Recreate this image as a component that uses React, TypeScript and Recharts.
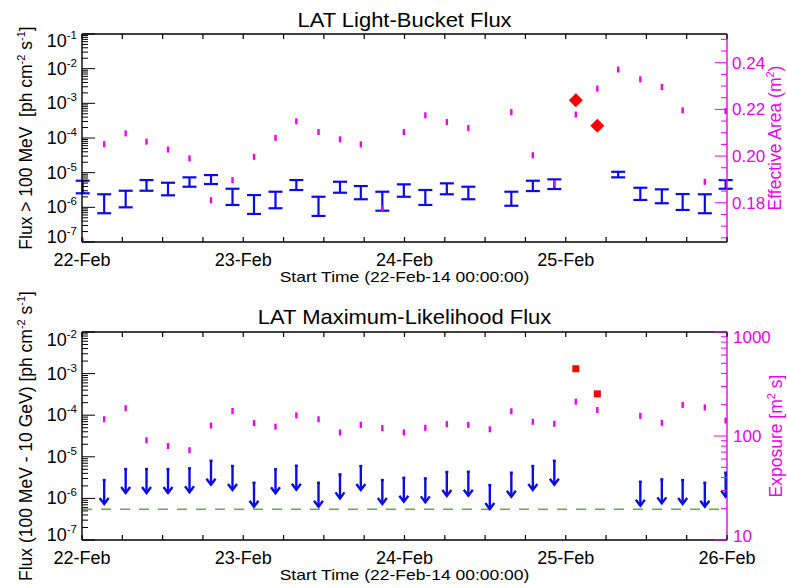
import { ScatterChart, Scatter, XAxis, YAxis, ErrorBar, ReferenceLine, Label } from "recharts";

const FONT = "'Liberation Sans', Arial, Helvetica, sans-serif";
const INK = "#000000";
const BLUE = "#0b0be6";
const MAGENTA = "#ee00ee";
const RED = "#ff0000";
const GREEN = "#6aa84f";

// bin centres, hours after 22-Feb-14 00:00:00
const binHours = [0.1, 3.3, 6.5, 9.6, 12.8, 16.0, 19.2, 22.4, 25.6, 28.8, 31.9, 35.2, 38.4, 41.5, 44.7, 47.9, 51.1, 54.3, 57.5, 60.7, 63.9, 67.1, 70.3, 73.5, 76.7, 79.8, 83.1, 86.3, 89.4, 92.7, 95.8];

// light-bucket flux > 100 MeV, error bar ends (null = no bar in that bin)
const lbFluxHigh = [5.85e-6, 2.38e-6, 3.01e-6, 6.12e-6, 5.12e-6, 7.33e-6, 8.53e-6, 3.44e-6, 2.26e-6, 2.82e-6, 6.12e-6, 2.02e-6, 5.47e-6, 4.11e-6, 2.82e-6, 4.6e-6, 3.16e-6, 4.92e-6, 3.93e-6, null, 2.82e-6, 5.85e-6, 6.41e-6, null, null, 1.06e-5, 3.67e-6, 3.3e-6, 2.42e-6, 2.38e-6, 6.12e-6];
const lbFluxLow = [2.54e-6, 6.75e-7, 1.0e-6, 3.01e-6, 2.22e-6, 3.93e-6, 4.7e-6, 1.17e-6, 6.44e-7, 9.4e-7, 3.16e-6, 5.64e-7, 2.64e-6, 1.71e-6, 8.0e-7, 2.02e-6, 1.17e-6, 2.38e-6, 1.71e-6, null, 1.11e-6, 2.95e-6, 3.37e-6, null, null, 7.33e-6, 1.63e-6, 1.31e-6, 8.4e-7, 6.75e-7, 3.44e-6];
const lbDetections = [null, null, null, null, null, null, null, null, null, null, null, null, null, null, null, null, null, null, null, null, null, null, null, 1.23e-3, 2.24e-4, null, null, null, null, null, null];
// effective area (m^2), right axis of the top panel
const effArea = [0.1635, 0.2051, 0.2097, 0.2062, 0.2028, 0.199, 0.1811, 0.1897, 0.1997, 0.2078, 0.2149, 0.2103, 0.2072, 0.205, 0.1777, 0.2103, 0.2175, 0.2146, 0.212, null, 0.2188, 0.2004, 0.1883, 0.2178, 0.2289, 0.2371, 0.2329, 0.2296, 0.2196, 0.189, 0.2193];

// maximum-likelihood flux 100 MeV - 10 GeV
const mlUpperLimits = [null, 2.76e-6, 5.08e-6, 5.08e-6, 5.08e-6, 5.28e-6, 8.05e-6, 6.0e-6, 2.38e-6, 5.0e-6, 6.1e-6, 2.38e-6, 3.78e-6, 6.0e-6, 2.76e-6, 3.13e-6, 3.03e-6, 4.31e-6, 4.38e-6, 2.09e-6, 4.14e-6, 6.0e-6, 8.05e-6, null, null, null, 2.51e-6, 2.87e-6, 2.76e-6, 2.38e-6, 4.14e-6];
const mlDetections = [null, null, null, null, null, null, null, null, null, null, null, null, null, null, null, null, null, null, null, null, null, null, null, 1.31e-3, 3.26e-4, null, null, null, null, null, null];
// exposure (m^2 s), right axis of the bottom panel
const exposure = [null, 145, 185, 91, 80, 73, 126, 174, 133, 123, 158, 145, 108, 128, 119, 108, 120, 130, 128, 116, 173, 137, 131, 214, 178, null, 156, 134, 199, 188, 141];
const mlFluxFloor = 5.5e-7;

// axes
const hourTicks = [0, 6, 12, 18, 24, 30, 36, 42, 48, 54, 60, 66, 72, 78, 84, 90, 96];
const dayTickHours = [0, 24, 48, 72, 96];
const dayTickLabels = ["22-Feb", "23-Feb", "24-Feb", "25-Feb", "26-Feb"];
const lbFluxDecades = [1e-7, 1e-6, 1e-5, 1e-4, 1e-3, 1e-2, 1e-1];
const mlFluxDecades = [1e-7, 1e-6, 1e-5, 1e-4, 1e-3, 1e-2];
const exposureDecades = [10, 100, 1000];
const areaLabels = [0.18, 0.2, 0.22, 0.24];
const areaDomain = [0.1632, 0.2523];

const withMinors = (decades: number[]) => {
  const out: number[] = [];
  decades.forEach((d, i) => {
    out.push(d);
    if (i < decades.length - 1) for (let k = 2; k < 10; k++) out.push(d * k);
  });
  return out;
};
const areaTicks: number[] = [];
for (let v = 0.165; v <= 0.2501; v += 0.005) areaTicks.push(Math.round(v * 1000) / 1000);

const pick = (vals: (number | null)[]) =>
  binHours.flatMap((t, i) => (vals[i] == null ? [] : [{ t, v: vals[i] as number }]));

const lbBars = binHours.flatMap((t, i) => {
  const lo = lbFluxLow[i];
  const hi = lbFluxHigh[i];
  if (lo == null || hi == null) return [];
  const v = Math.sqrt(lo * hi);
  return [{ t, v, err: [v - lo, hi - v] }];
});

const XTick = (p: any) => {
  const { x, y, payload, labelCount, top } = p;
  const i = dayTickHours.indexOf(payload.value);
  return (
    <g>
      <line x1={x} x2={x} y1={y} y2={y + (top ? 5 : -5)} stroke={INK} strokeWidth={1.2} />
      {!top && i >= 0 && i < labelCount && (
        <text x={x} y={y + 24} textAnchor="middle" fontSize={18} fontFamily={FONT} fill={INK}>
          {dayTickLabels[i]}
        </text>
      )}
    </g>
  );
};

const LogTick = (p: any) => {
  const { x, y, payload, side, color, lo, hi, plain, shiftTop, shiftBottom } = p;
  const v = payload.value;
  const e = Math.log10(v);
  const major = Math.abs(e - Math.round(e)) < 1e-6;
  const d = side === "left" ? 1 : -1;
  let shift = 0;
  if (major && Math.abs(v / hi - 1) < 1e-6) shift = shiftTop;
  if (major && Math.abs(v / lo - 1) < 1e-6) shift = shiftBottom;
  const ty = y + 6 + shift;
  return (
    <g>
      <line x1={x} x2={x + d * (major ? 13 : 6)} y1={y} y2={y} stroke={color} strokeWidth={1} />
      {major &&
        (plain ? (
          <text x={x + 6} y={ty} fontSize={17} fill={color} fontFamily={FONT}>
            {v}
          </text>
        ) : (
          <text x={x - 5} y={ty} textAnchor="end" fontSize={18} fill={color} fontFamily={FONT}>
            10<tspan dy={-8} fontSize={11.5}>{Math.round(e)}</tspan>
          </text>
        ))}
    </g>
  );
};

const AreaTick = (p: any) => {
  const { x, y, payload } = p;
  const v = payload.value;
  const major = areaLabels.some((a) => Math.abs(a - v) < 1e-6);
  return (
    <g>
      <line x1={x} x2={x - (major ? 12 : 6)} y1={y} y2={y} stroke={MAGENTA} strokeWidth={1} />
      {major && (
        <text x={x + 5} y={y + 6} fontSize={17} fill={MAGENTA} fontFamily={FONT}>
          {v.toFixed(2)}
        </text>
      )}
    </g>
  );
};

const NoMark = () => <g />;
const Dash = (p: any) => <rect x={p.cx - 1.2} y={p.cy - 3} width={2.4} height={6} fill={MAGENTA} />;
const Diamond = (p: any) => (
  <polygon points={`${p.cx},${p.cy - 7} ${p.cx + 7},${p.cy} ${p.cx},${p.cy + 7} ${p.cx - 7},${p.cy}`} fill={RED} />
);
const Square = (p: any) => <rect x={p.cx - 3.5} y={p.cy - 3.5} width={7} height={7} fill={RED} />;
const Arrow = (p: any) => {
  const { cx, cy } = p;
  const len = 24;
  return (
    <g stroke={BLUE} strokeWidth={2.4} fill="none">
      <line x1={cx} y1={cy} x2={cx} y2={cy + len} />
      <line x1={cx - 1.5} x2={cx + 1.5} y1={cy} y2={cy} />
      <polyline points={`${cx - 4.5},${cy + len - 6} ${cx},${cy + len} ${cx + 4.5},${cy + len - 6}`} />
    </g>
  );
};

// squash < 1 flattens the glyphs vertically, as the plotting package did
const Title = ({ x, y, rotate, color = INK, size = 17.5, squash = 1, children }: any) => (
  <text
    x={0}
    y={0}
    transform={rotate ? `translate(${x} ${y}) rotate(-90)` : `translate(${x} ${y}) scale(1 ${squash})`}
    textAnchor="middle"
    fontSize={size}
    fill={color}
    fontFamily={FONT}
    style={{ whiteSpace: "pre" }}
  >
    {children}
  </text>
);

// a unit with superscripts: parts alternate plain / superscript
const Unit = ({ parts }: { parts: string[] }) => (
  <>
    {parts.map((s, i) =>
      i % 2 === 1 ? (
        <tspan key={i} dy={-7} fontSize={11}>{s}</tspan>
      ) : (
        <tspan key={i} dy={i === 0 ? 0 : 7}>{s}</tspan>
      )
    )}
  </>
);

const vbOf = (lp: any, fallback: any) => lp.viewBox || fallback;

const axisLine = { stroke: INK, strokeWidth: 1.4 };

function LightBucketPanel() {
  return (
    <ScatterChart width={787} height={290} margin={{ top: 32, right: 0, bottom: 0, left: 0 }}>
      <XAxis xAxisId="b" type="number" dataKey="t" domain={[0, 96]} ticks={hourTicks} interval={0} allowDataOverflow
        height={48} tickSize={0} tickMargin={0} tickLine={false} axisLine={axisLine}
        tick={(p: any) => <XTick {...p} labelCount={4} />}>
        <Label content={(lp: any) => {
          const vb = vbOf(lp, { x: 82, y: 242, width: 645, height: 48 });
          return <Title x={vb.x + vb.width / 2} y={vb.y + 40} size={17.5} squash={0.8}>Start Time (22-Feb-14 00:00:00)</Title>;
        }} />
      </XAxis>
      <XAxis xAxisId="t" orientation="top" type="number" dataKey="t" domain={[0, 96]} ticks={hourTicks} interval={0}
        allowDataOverflow height={2} tickSize={0} tickMargin={0} tickLine={false} axisLine={axisLine}
        tick={(p: any) => <XTick {...p} top labelCount={0} />}>
        <Label content={(lp: any) => {
          const vb = vbOf(lp, { x: 82, y: 32, width: 645, height: 2 });
          return <Title x={vb.x + vb.width / 2} y={vb.y + vb.height - 7} size={22} squash={0.9}>LAT Light-Bucket Flux</Title>;
        }} />
      </XAxis>
      <YAxis yAxisId="f" dataKey="v" scale="log" domain={[1e-7, 1e-1]} allowDataOverflow ticks={withMinors(lbFluxDecades)}
        interval={0} width={82} tickSize={0} tickMargin={0} tickLine={false} axisLine={axisLine}
        tick={(p: any) => <LogTick {...p} side="left" color={INK} lo={1e-7} hi={1e-1} shiftTop={7} shiftBottom={-5} />}>
        <Label content={(lp: any) => {
          const vb = vbOf(lp, { x: 0, y: 34, width: 82, height: 208 });
          return (
            <Title x={32} y={vb.y + vb.height / 2} rotate>
              <Unit parts={["Flux > 100 MeV  [ph cm", "-2", " s", "-1", "]"]} />
            </Title>
          );
        }} />
      </YAxis>
      <YAxis yAxisId="a" dataKey="v" orientation="right" type="number" domain={areaDomain} allowDataOverflow ticks={areaTicks}
        interval={0} width={60} tickSize={0} tickMargin={0} tickLine={false} axisLine={{ stroke: MAGENTA, strokeWidth: 1.4 }}
        tick={(p: any) => <AreaTick {...p} />}>
        <Label content={(lp: any) => {
          const vb = vbOf(lp, { x: 727, y: 34, width: 60, height: 208 });
          return (
            <Title x={781} y={vb.y + vb.height / 2} rotate color={MAGENTA}>
              <Unit parts={["Effective Area (m", "2", ")"]} />
            </Title>
          );
        }} />
      </YAxis>
      <Scatter xAxisId="b" yAxisId="a" data={pick(effArea)} shape={Dash} isAnimationActive={false} />
      <Scatter xAxisId="b" yAxisId="f" data={lbBars} shape={NoMark} isAnimationActive={false}>
        <ErrorBar dataKey="err" direction="y" width={7} stroke={BLUE} strokeWidth={2.2} isAnimationActive={false} />
      </Scatter>
      <Scatter xAxisId="b" yAxisId="f" data={pick(lbDetections)} shape={Diamond} isAnimationActive={false} />
    </ScatterChart>
  );
}

function LikelihoodPanel() {
  return (
    <ScatterChart width={787} height={298} margin={{ top: 40, right: 0, bottom: 0, left: 0 }}>
      <XAxis xAxisId="b" type="number" dataKey="t" domain={[0, 96]} ticks={hourTicks} interval={0} allowDataOverflow
        height={48} tickSize={0} tickMargin={0} tickLine={false} axisLine={axisLine}
        tick={(p: any) => <XTick {...p} labelCount={5} />}>
        <Label content={(lp: any) => {
          const vb = vbOf(lp, { x: 82, y: 250, width: 645, height: 48 });
          return <Title x={vb.x + vb.width / 2} y={vb.y + 40} size={17.5} squash={0.8}>Start Time (22-Feb-14 00:00:00)</Title>;
        }} />
      </XAxis>
      <XAxis xAxisId="t" orientation="top" type="number" dataKey="t" domain={[0, 96]} ticks={hourTicks} interval={0}
        allowDataOverflow height={2} tickSize={0} tickMargin={0} tickLine={false} axisLine={axisLine}
        tick={(p: any) => <XTick {...p} top labelCount={0} />}>
        <Label content={(lp: any) => {
          const vb = vbOf(lp, { x: 82, y: 40, width: 645, height: 2 });
          return <Title x={vb.x + vb.width / 2} y={vb.y + vb.height - 8} size={22} squash={0.9}>LAT Maximum-Likelihood Flux</Title>;
        }} />
      </XAxis>
      <YAxis yAxisId="f" dataKey="v" scale="log" domain={[1e-7, 1e-2]} allowDataOverflow ticks={withMinors(mlFluxDecades)}
        interval={0} width={82} tickSize={0} tickMargin={0} tickLine={false} axisLine={axisLine}
        tick={(p: any) => <LogTick {...p} side="left" color={INK} lo={1e-7} hi={1e-2} shiftTop={8} shiftBottom={-5} />}>
        <Label content={(lp: any) => {
          const vb = vbOf(lp, { x: 0, y: 42, width: 82, height: 208 });
          return (
            <Title x={32} y={vb.y + vb.height / 2} rotate>
              <Unit parts={["Flux (100 MeV - 10 GeV) [ph cm", "-2", " s", "-1", "]"]} />
            </Title>
          );
        }} />
      </YAxis>
      <YAxis yAxisId="e" dataKey="v" orientation="right" scale="log" domain={[10, 1000]} allowDataOverflow
        ticks={withMinors(exposureDecades)} interval={0} width={60} tickSize={0} tickMargin={0} tickLine={false}
        axisLine={{ stroke: MAGENTA, strokeWidth: 1.4 }}
        tick={(p: any) => <LogTick {...p} side="right" plain color={MAGENTA} lo={10} hi={1000} shiftTop={5} shiftBottom={-4} />}>
        <Label content={(lp: any) => {
          const vb = vbOf(lp, { x: 727, y: 42, width: 60, height: 208 });
          return (
            <Title x={782} y={vb.y + vb.height / 2} rotate color={MAGENTA}>
              <Unit parts={["Exposure [m", "2", " s]"]} />
            </Title>
          );
        }} />
      </YAxis>
      <ReferenceLine xAxisId="b" yAxisId="f" y={mlFluxFloor} stroke={GREEN} strokeWidth={1.4} strokeDasharray="10 9" />
      <Scatter xAxisId="b" yAxisId="e" data={pick(exposure)} shape={Dash} isAnimationActive={false} />
      <Scatter xAxisId="b" yAxisId="f" data={pick(mlUpperLimits)} shape={Arrow} isAnimationActive={false} />
      <Scatter xAxisId="b" yAxisId="f" data={pick(mlDetections)} shape={Square} isAnimationActive={false} />
    </ScatterChart>
  );
}

export default function App() {
  return (
    <div style={{ position: "absolute", left: 0, top: 0, width: 787, height: 588, background: "#fff" }}>
      <LightBucketPanel />
      <LikelihoodPanel />
    </div>
  );
}
